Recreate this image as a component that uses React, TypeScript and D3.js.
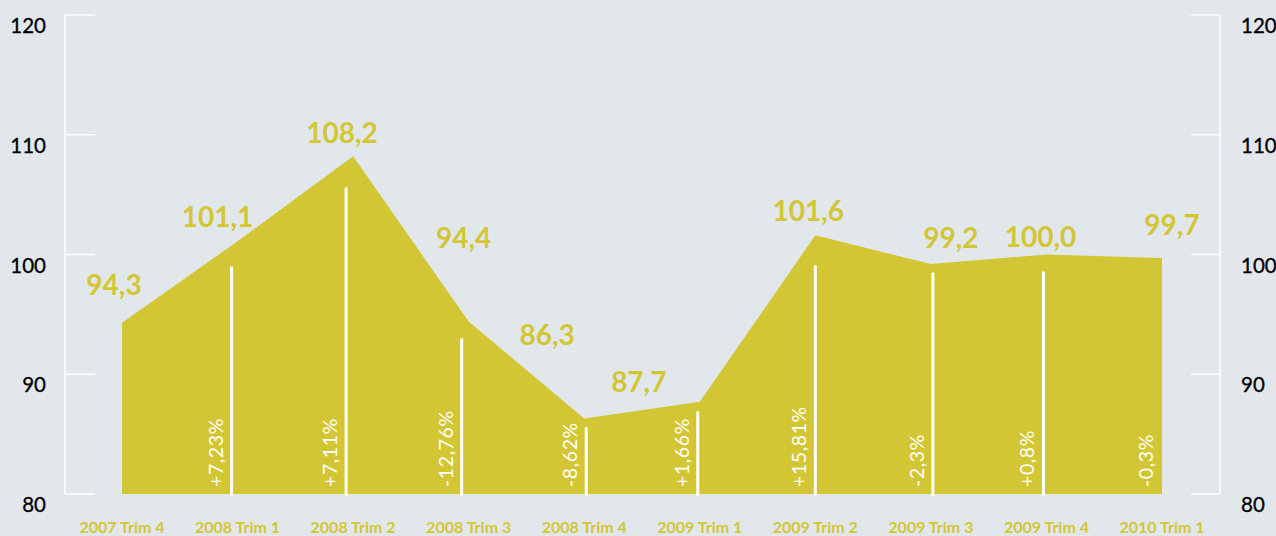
import React from "react";
import * as d3 from "d3";

const categories = [
  "2007 Trim 4", "2008 Trim 1", "2008 Trim 2", "2008 Trim 3", "2008 Trim 4",
  "2009 Trim 1", "2009 Trim 2", "2009 Trim 3", "2009 Trim 4", "2010 Trim 1",
];
const values = [94.3, 101.1, 108.2, 94.4, 86.3, 87.7, 101.6, 99.2, 100.0, 99.7];
const valueLabels = ["94,3", "101,1", "108,2", "94,4", "86,3", "87,7", "101,6", "99,2", "100,0", "99,7"];
const changeLabels = [null, "+7,23%", "+7,11%", "-12,76%", "-8,62%", "+1,66%", "+15,81%", "-2,3%", "+0,8%", "-0,3%"];
const markerTops: (number | null)[] = [null, 98.9, 105.5, 92.9, 85.5, 86.8, 99.0, 98.4, 98.5, null];
const yTicks = [80, 90, 100, 110, 120];

// manual annotation placement (pixels relative to the point)
const labelOffsets: [number, number][] = [
  [-8, -28], [-20, -14], [-11, -13], [-5, -74], [-37, -74],
  [-61, -10], [-7, -14], [20, -16], [-6, -8], [10, -23],
];
const markerShift = [0, -6, -7, -7, 2, -2, 0, 2, -3, 0];

const W = 1276;
const H = 536;
const BG = "#e2e7eb";
const YELLOW = "#d3c634";
const FONT = "Lato, 'Open Sans', sans-serif";

export default function App() {
  const x = d3.scalePoint<string>().domain(categories).range([122, 1162]);
  const y = d3.scaleLinear().domain([80, 120]).range([494, 15]);
  const area = d3
    .area<number>()
    .x((_, i) => x(categories[i]) as number)
    .y0(y(80))
    .y1((d) => y(d))
    .curve(d3.curveLinear);

  const leftX = 65;
  const rightX = 1220;
  const tickLen = 30;

  return (
    <svg
      width={W}
      height={H}
      style={{ position: "absolute", left: 0, top: 0, display: "block" }}
      fontFamily={FONT}
    >
      <rect x={0} y={0} width={W} height={H} fill={BG} />

      {/* axes */}
      <g stroke="#ffffff" strokeWidth={1.5} fill="none">
        <line x1={leftX} x2={leftX} y1={y(120)} y2={y(80)} />
        <line x1={rightX} x2={rightX} y1={y(120)} y2={y(80)} />
        {yTicks.map((t) => (
          <g key={t}>
            <line x1={leftX} x2={leftX + tickLen} y1={y(t)} y2={y(t)} />
            <line x1={rightX - tickLen + 1} x2={rightX} y1={y(t)} y2={y(t)} />
          </g>
        ))}
      </g>
      {yTicks.map((t) => (
        <g key={"l" + t} fontSize={20.5} fill="#000" stroke="#000" strokeWidth={0.3}>
          <text x={46} y={y(t) + 18} textAnchor="end">{t}</text>
          <text x={1241} y={y(t) + 18} textAnchor="start">{t}</text>
        </g>
      ))}

      {/* area */}
      <path d={area(values) || ""} fill={YELLOW} />

      {/* marker lines */}
      {markerTops.map((m, i) =>
        m == null ? null : (
          <line
            key={"m" + i}
            x1={(x(categories[i]) as number) + markerShift[i]}
            x2={(x(categories[i]) as number) + markerShift[i]}
            y1={y(m)}
            y2={y(80) + 1}
            stroke="#ffffff"
            strokeWidth={3}
            strokeLinecap="round"
          />
        )
      )}

      {/* change labels */}
      {changeLabels.map((c, i) => {
        if (!c) return null;
        const bx = (x(categories[i]) as number) + markerShift[i] - 9;
        const by = y(80) - 7;
        return (
          <text
            key={"c" + i}
            transform={`translate(${bx},${by}) rotate(-90)`}
            fill="#ffffff"
            fontSize={19.5}
            letterSpacing={0.6}
            textAnchor="start"
          >
            {c}
          </text>
        );
      })}

      {/* value labels */}
      {values.map((v, i) => (
        <text
          key={"v" + i}
          x={(x(categories[i]) as number) + labelOffsets[i][0]}
          y={y(v) + labelOffsets[i][1]}
          textAnchor="middle"
          fontSize={28}
          fontWeight={700}
          fill={YELLOW}
        >
          {valueLabels[i]}
        </text>
      ))}

      {/* category labels */}
      {categories.map((c) => (
        <text
          key={"x" + c}
          x={x(c) as number}
          y={533}
          textAnchor="middle"
          fontSize={16}
          fontWeight={700}
          fill={YELLOW}
        >
          {c}
        </text>
      ))}
    </svg>
  );
}
